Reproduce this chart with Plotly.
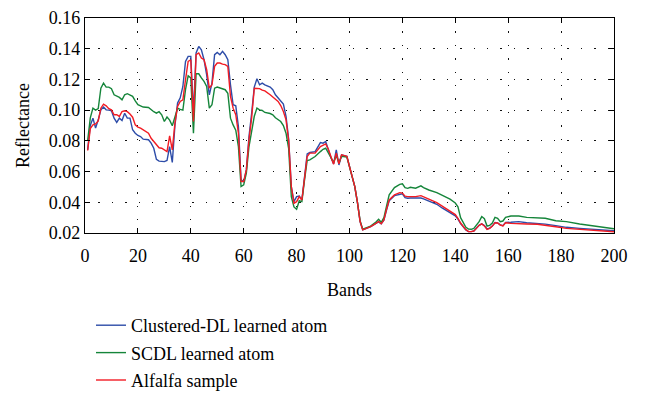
import plotly.graph_objects as go

bands = [1,2,3,4,5,6,7,8,9,10,11,12,13,14,15,16,17,18,19,20,21,22,24,25,26,27,28,29,30,31,32,33,34,35,36,37,38,39,40,41,42,43,44,45,46,47,48,49,50,51,52,53,54,55,56,57,58,59,60,61,62,63,64,65,66,67,68,70,71,72,73,74,75,76,77,78,79,80,81,82,83,84,85,87,89,90,91,92,93,94,95,96,97,99,100,101,102,103,104,105,106,108,110,111,112,113,114,115,117,119,120,121,122,123,125,127,128,130,133,135,138,140,141,142,144,145,146,147,148,149,150,151,152,153,154,155,156,157,158,159,161,164,167,171,174,178,182,187,193,198,200]

clustered_dl = [.0741,.090,.0948,.0883,.0937,.1002,.102,.1002,.1000,.0996,.0948,.092,.0948,.0933,.098,.0948,.0948,.0872,.085,.0835,.0828,.0811,.0807,.0785,.0752,.068,.0668,.0665,.0665,.0672,.0763,.0659,.090,.1046,.108,.1154,.1317,.135,.135,.098,.1372,.1415,.1393,.1328,.123,.110,.1176,.1361,.1376,.1361,.1383,.1361,.1328,.1165,.1035,.1028,.0893,.0546,.0535,.0611,.0828,.098,.1150,.1204,.1165,.1176,.1165,.115,.1133,.110,.1080,.1067,.1040,.0959,.0810,.0502,.0404,.0437,.0441,.0415,.0589,.0715,.0724,.073,.0789,.0785,.0796,.0741,.0690,.065,.0741,.0643,.0709,.0700,.0633,.0567,.0502,.0400,.0275,.0220,.0228,.0241,.0263,.0272,.0260,.0283,.0350,.0410,.0443,.0454,.0455,.0430,.0426,.0428,.0426,.0428,.0422,.0409,.0387,.0363,.0335,.0312,.0290,.0262,.0220,.0209,.0209,.0213,.0232,.0250,.0260,.0248,.0226,.0232,.0245,.0268,.0266,.0253,.0248,.0269,.0270,.0274,.0267,.0262,.0258,.0248,.0237,.0230,.0224,.0220,.0215]

scdl = [.080,.095,.1013,.100,.101,.1143,.1176,.115,.115,.114,.110,.109,.1083,.1067,.110,.1107,.110,.109,.106,.1035,.1028,.102,.1017,.1002,.099,.098,.099,.097,.0926,.0955,.0935,.0898,.0959,.1013,.1005,.100,.1133,.1224,.121,.085,.1237,.1237,.121,.1187,.1154,.1013,.1035,.1143,.115,.1143,.1140,.1133,.111,.0948,.0904,.087,.0763,.0502,.0513,.0589,.0763,.0870,.0960,.1013,.1002,.0998,.0985,.0978,.097,.0950,.0935,.0926,.0900,.085,.075,.0437,.0370,.0354,.0410,.0404,.0546,.0672,.0676,.0698,.0730,.0745,.0752,.0725,.0690,.066,.0705,.0655,.0700,.0695,.0633,.0567,.0502,.0400,.0280,.0225,.0232,.0245,.0272,.0289,.0270,.0300,.0375,.0448,.0496,.0517,.0520,.0495,.0491,.0498,.0492,.0507,.0496,.0480,.0463,.0445,.0420,.0395,.0370,.0300,.0237,.0225,.0224,.0230,.0252,.0274,.0307,.0293,.0245,.0250,.0265,.0302,.0296,.0274,.0278,.0302,.0311,.0311,.0302,.0296,.0296,.0280,.0274,.0259,.0246,.0235,.0228]

alfalfa = [.0737,.088,.0904,.091,.093,.1013,.1039,.1028,.101,.1002,.097,.097,.0959,.0991,.0996,.0990,.0975,.0954,.0904,.089,.0883,.087,.085,.0817,.0795,.0774,.0755,.0752,.0741,.073,.0833,.0741,.0915,.1024,.1057,.1067,.1198,.1317,.1328,.0926,.1361,.1372,.1339,.1328,.1263,.1143,.1165,.1285,.1307,.1307,.1300,.1296,.1285,.1089,.1013,.097,.085,.0535,.0535,.0611,.0807,.095,.1143,.1143,.1140,.1130,.1125,.110,.1085,.1070,.1057,.1030,.0991,.0937,.0800,.0502,.0393,.0404,.0437,.0415,.0567,.0698,.072,.072,.0763,.0770,.0780,.0745,.0690,.0648,.0720,.0650,.0709,.0700,.0633,.0567,.0502,.0400,.0275,.0220,.0228,.0241,.0263,.0275,.0260,.0285,.0355,.0415,.0448,.0463,.0460,.0440,.0437,.0437,.0437,.0443,.0437,.0420,.0398,.0375,.0346,.0320,.0296,.0265,.0222,.0210,.0209,.0213,.0230,.0250,.0259,.0246,.0224,.0230,.0245,.0267,.0265,.0252,.0246,.0267,.0263,.0263,.0259,.0257,.0252,.0241,.0230,.0224,.0220,.0213,.0208]

x_ticks = [0, 20, 40, 60, 80, 100, 120, 140, 160, 180, 200]
y_ticks = [0.02, 0.04, 0.06, 0.08, 0.10, 0.12, 0.14, 0.16]

FONT = "Liberation Serif"

fig = go.Figure()
series = [
    ("Clustered-DL learned atom", clustered_dl, "#2d4ca8"),
    ("SCDL learned atom", scdl, "#15853a"),
    ("Alfalfa sample", alfalfa, "#f21c24"),
]
for i, (name, vals, col) in enumerate(series):
    fig.add_trace(go.Scatter(x=bands, y=vals, mode="lines", name=name,
                             legendgroup=f"g{i}",
                             line=dict(color=col, width=1.4)))

axis_common = dict(
    showline=True, linecolor="black", linewidth=1.2, mirror="ticks",
    ticks="inside", ticklen=5, tickcolor="black", tickwidth=1,
    showgrid=True, gridcolor="#111111", gridwidth=1.4, griddash="1.4px,12px",
    zeroline=False, automargin=False,
    tickfont=dict(family=FONT, size=18, color="black"),
)

fig.update_xaxes(range=[0, 200], tickvals=x_ticks, ticktext=[str(v) for v in x_ticks],
                 title=dict(text="Bands", font=dict(family=FONT, size=18, color="black"), standoff=18),
                 ticklabelstandoff=6, **axis_common)
fig.update_yaxes(range=[0.02, 0.16], tickvals=y_ticks, ticktext=[f"{v:.2f}" for v in y_ticks],
                 title=dict(text="Reflectance", font=dict(family=FONT, size=18, color="black"), standoff=14),
                 **axis_common)

# page body adds an 8px offset, so margins are compensated
L, T, PW, PH = 77, 10, 529, 215
fig.update_layout(
    width=645, height=396,
    margin=dict(l=L, r=645 - L - PW, t=T, b=396 - T - PH, autoexpand=False),
    paper_bgcolor="white", plot_bgcolor="white",
    font=dict(family=FONT, size=18, color="black"),
    showlegend=True,
)
fig.update_layout(legend=dict(
    x=6 / PW, xanchor="left",
    y=-74 / PH, yanchor="top",
    orientation="v", traceorder="grouped", tracegroupgap=1,
    font=dict(family=FONT, size=18, color="black"),
    bgcolor="rgba(0,0,0,0)", itemwidth=30,
))

fig.write_html("out.html")
